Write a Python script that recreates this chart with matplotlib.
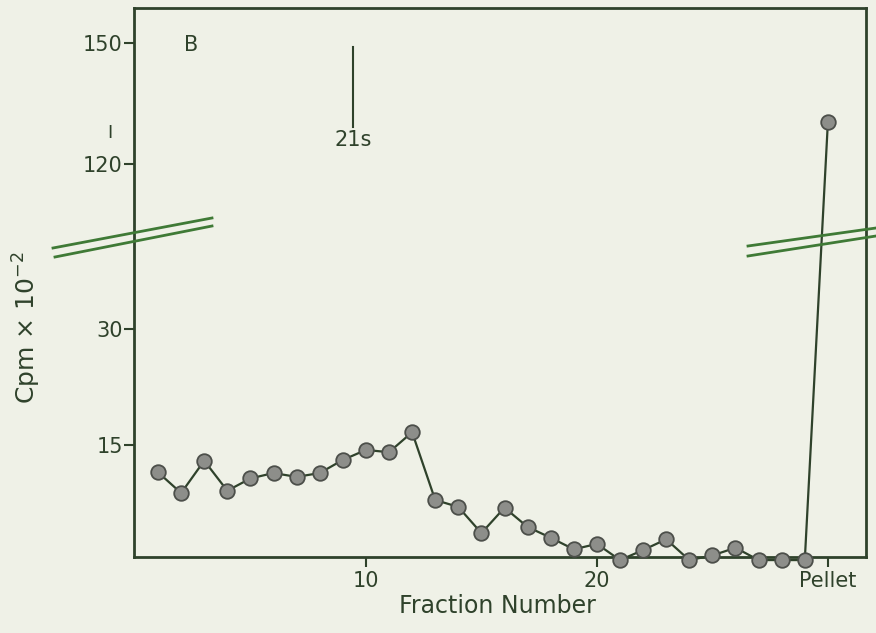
# Fraction profile, panel B (broken y axis)
import numpy as np
import matplotlib.pyplot as plt
from matplotlib.lines import Line2D

# data
fractions = np.arange(1, 30)
cpm = [11.4, 8.7, 12.9, 9.0, 10.6, 11.3, 10.8, 11.3, 13.0, 14.3,
       14.0, 16.6, 7.8, 6.9, 3.5, 6.8, 4.3, 2.9, 1.4, 2.1,
       0.0, 1.3, 2.7, 0.0, 0.6, 1.6, 0.0, 0.0, 0.0]
pellet_x = 30
pellet_cpm = 130.4
ytick_vals = [15, 30, 120, 150]
xtick_vals = [10, 20, pellet_x]
xtick_labels = ['10', '20', 'Pellet']

# broken axis: piecewise linear scale
lo_slope, hi_slope = 7.7, 4.03
B1, B2 = 41.6, 101.4
eps = 0.01
h1 = lo_slope * B1
h2 = h1 + eps * (B2 - B1)

def forward(y):
    y = np.asarray(y, dtype=float)
    return np.where(y <= B1, y * lo_slope,
                    np.where(y >= B2, h2 + (y - B2) * hi_slope, h1 + eps * (y - B1)))

def inverse(h):
    h = np.asarray(h, dtype=float)
    return np.where(h <= h1, h / lo_slope,
                    np.where(h >= h2, B2 + (h - h2) / hi_slope, B1 + (h - h1) / eps))

paper = '#eff1e7'
ink = '#2f422b'
green = '#3f7a36'

W, H = 876, 633
fig = plt.figure(figsize=(8.76, 6.33), dpi=100, facecolor=paper)
ax = fig.add_axes([134 / W, 1 - 557 / H, (866 - 134) / W, (557 - 8) / H])
ax.set_facecolor(paper)
ax.set_yscale('function', functions=(forward, inverse))

xs = list(fractions) + [pellet_x]
ys = cpm + [pellet_cpm]
ax.plot(xs, ys, color=ink, lw=1.6, marker='o', ms=10.5,
        mfc='#8d8e8a', mec='#4c4f4a', mew=1.3, clip_on=False, zorder=3)

ax.set_xlim(-0.04, 31.65)
ax.set_ylim(0.4, 158.7)

ax.set_yticks(ytick_vals)
ax.set_yticklabels([str(v) for v in ytick_vals])
ax.set_xticks(xtick_vals)
ax.set_xticklabels(xtick_labels)
ax.yaxis.set_minor_locator(plt.NullLocator())
ax.tick_params(axis='both', direction='out', length=7, width=1.5,
               colors=ink, labelsize=15, pad=1)
ax.tick_params(axis='x', pad=3)
for s in ax.spines.values():
    s.set_color(ink)
    s.set_linewidth(2)

# 21s marker and panel letter
ax.plot([9.44, 9.44], [149.1, 129.2], color=ink, lw=1.5)
ax.text(9.44, 126, '21s', ha='center', va='center', fontsize=15, color=ink)
ax.text(2.43, 149.6, 'B', ha='center', va='center', fontsize=15, color=ink)

# axis labels
fig.text(497 / W, 1 - 606 / H, 'Fraction Number', ha='center', va='center',
         fontsize=17, color=ink)
fig.text(27 / W, 1 - 328 / H, r'Cpm $\times$ 10$^{-2}$', ha='center', va='center',
         rotation=90, fontsize=18, color=ink)
fig.text(110 / W, 1 - 133 / H, 'I', ha='center', va='center', fontsize=13, color=ink)

# break marks
def brk(x0, y0, x1, y1):
    fig.add_artist(Line2D([x0 / W, x1 / W], [1 - y0 / H, 1 - y1 / H],
                          color=green, lw=2, transform=fig.transFigure))

brk(53, 248, 212, 218)
brk(55, 257, 212, 226)
brk(748, 246, 876, 228)
brk(748, 256, 876, 236)

plt.savefig('out.png', dpi=100, facecolor=paper)
